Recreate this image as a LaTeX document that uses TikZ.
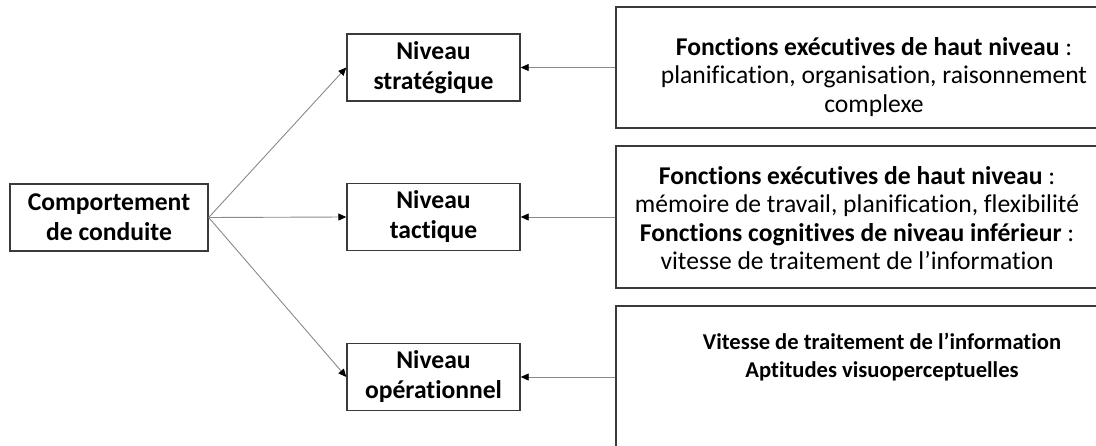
\documentclass[tikz,border=0pt]{standalone}
\usepackage{fontspec}
\setmainfont{Carlito}[Ligatures=NoCommon]
\usetikzlibrary{arrows.meta}
\definecolor{boxc}{HTML}{3A3A3A}
\definecolor{connc}{HTML}{8A8A8A}
\begin{document}
\begin{tikzpicture}[x=1pt,y=-1pt,
  box/.style={draw=boxc, line width=1.4pt, rectangle, inner sep=0pt, align=center,
    font=\fontsize{25.6}{30}\selectfont\bfseries, text=black},
  lvl/.style={box, minimum width=173pt, minimum height=67pt},
  bigbox/.style={draw=boxc, line width=1.4pt, rectangle, inner sep=0pt},
  desc/.style={inner sep=0pt, align=center, font=\fontsize{25.6}{28.5}\selectfont, text=black},
  conn/.style={draw=connc, line width=0.9pt, -{Triangle[length=8pt,width=7pt,fill=black,color=black]}},
  ]
\useasboundingbox (0,0) rectangle (1096,446);
\clip (0,0) rectangle (1096,446);

\node[box, minimum width=198pt, minimum height=67pt] (cc) at (109,217.5) {Comportement\\de conduite};

\node[lvl] (ns) at (433.5,67.5) {Niveau\\strat\'egique};
\node[lvl] (nt) at (433.5,217) {Niveau\\tactique};
\node[lvl] (no) at (433.5,377) {Niveau\\op\'erationnel};

\node[bigbox, minimum width=518pt, minimum height=121pt] (r1) at (875,67.5) {};
\node[bigbox, minimum width=482pt, minimum height=142pt] (r2) at (857,217) {};
\node[bigbox, minimum width=532pt, minimum height=142pt] (r3) at (882,377) {};

\node[desc] (t1) at (874,77) {\textbf{Fonctions exécutives de haut niveau} :\\planification, organisation, raisonnement\\complexe};
\node[desc] (t2) at (857,218) {\textbf{Fonctions exécutives de haut niveau} :\\mémoire de travail, planification, flexibilité\\\textbf{Fonctions cognitives de niveau inférieur} :\\vitesse de traitement de l’information};
\node[desc, font=\fontsize{22.6}{28}\selectfont\bfseries] (t3) at (882,357) {Vitesse de traitement de l’information\\Aptitudes visuoperceptuelles};

\draw[conn] (cc.east) -- (ns.west);
\draw[conn] (cc.east) -- (nt.west);
\draw[conn] (cc.east) -- (no.west);

\draw[conn] (r1.west) -- (ns.east);
\draw[conn] (r2.west) -- (nt.east);
\draw[conn] (r3.west) -- (no.east);
\end{tikzpicture}
\end{document}
